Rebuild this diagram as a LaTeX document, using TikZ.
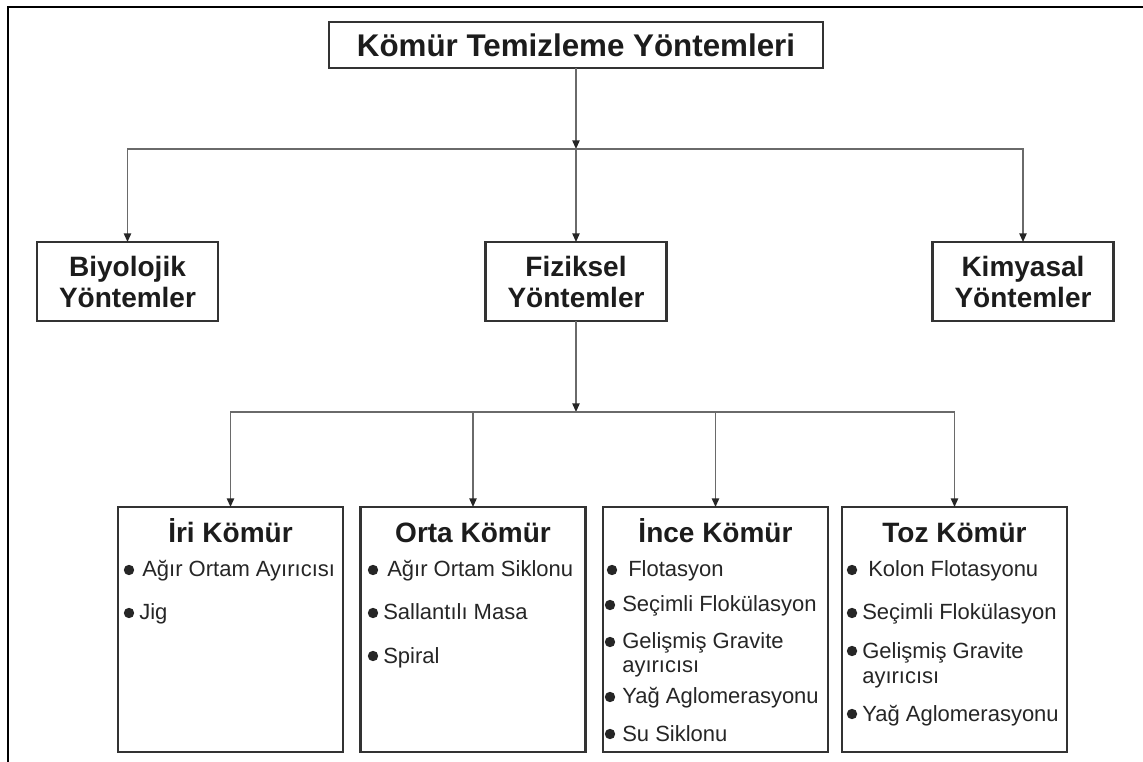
\documentclass[tikz,border=0pt]{standalone}
\usepackage{fontspec}
\setmainfont{Liberation Sans}
\usetikzlibrary{arrows.meta}
\definecolor{boxline}{HTML}{333333}
\definecolor{connline}{HTML}{6A6A6A}
\definecolor{inktext}{HTML}{1C1C1C}
\definecolor{itemink}{HTML}{262626}
% one bulleted entry: name, bullet x, text x, baseline y, text
\newcommand\entry[5]{%
  \fill[itemink] (#2,#4-7) circle[radius=3.9pt];
  \node[itemtext,anchor=base west] (#1) at (#3,#4) {#5};}
\begin{document}
\begin{tikzpicture}[x=0.75pt,y=-0.75pt,
  box/.style={draw=boxline,line width=1.6pt,fill=white,inner sep=0pt,outer sep=0pt},
  titlebox/.style={box,minimum width=370.5pt,minimum height=34.5pt,
    font=\fontsize{23.5pt}{26pt}\selectfont\bfseries,text=inktext},
  methodbox/.style={box,minimum width=135.75pt,minimum height=59.25pt,align=center,
    font=\fontsize{21pt}{23.25pt}\selectfont\bfseries,text=inktext},
  sizebox/.style={box,minimum width=168.75pt,minimum height=183.75pt},
  heading/.style={inner sep=0pt,anchor=base,font=\fontsize{21pt}{23pt}\selectfont\bfseries,text=inktext},
  itemtext/.style={inner sep=0pt,font=\fontsize{16.5pt}{19pt}\selectfont,text=itemink},
  conn/.style={draw=connline,line width=1.1pt},
  arr/.style={-{Triangle[length=6.5pt,width=5.5pt,color=black!85]}},
  frame/.style={draw=black,line width=1.5pt}]
\useasboundingbox (0,0) rectangle (1143,762);

% outer frame (left and top edges)
\draw[frame] (8,762) -- (8,7) -- (1143,7);

% top level
\node[titlebox] (title) at (576,45) {Kömür Temizleme Yöntemleri};

% method boxes
\node[methodbox] (bio) at (127.5,281.5) {Biyolojik\\Yöntemler};
\node[methodbox] (fiz) at (576,281.5) {Fiziksel\\Yöntemler};
\node[methodbox] (kim) at (1023,281.5) {Kimyasal\\Yöntemler};

% size class boxes
\node[sizebox] (iri) at (230.5,629.5) {};
\node[sizebox] (orta) at (473,629.5) {};
\node[sizebox] (ince) at (715.5,629.5) {};
\node[sizebox] (toz) at (954.5,629.5) {};

% junctions
\coordinate (j1) at (576,149);
\coordinate (j2) at (576,412);

% connectors
\draw[conn,arr] (title) -- (j1);
\draw[conn,arr] (j1) -| (bio.north);
\draw[conn,arr] (j1) -| (kim.north);
\draw[conn,arr] (j1) -- (fiz.north);
\draw[conn,arr] (fiz) -- (j2);
\draw[conn,arr] (j2) -| (iri.north);
\draw[conn,arr] (j2) -| (orta.north);
\draw[conn,arr] (j2) -| (ince.north);
\draw[conn,arr] (j2) -| (toz.north);

% headings
\node[heading] (iriH) at (230.5,543) {İri Kömür};
\node[heading] (ortaH) at (473,543) {Orta Kömür};
\node[heading] (inceH) at (715.5,543) {İnce Kömür};
\node[heading] (tozH) at (954.5,543) {Toz Kömür};

% entries: coarse coal
\entry{iri1}{129}{142}{577}{Ağır Ortam Ayırıcısı}
\entry{iri2}{129}{139}{620}{Jig}

% entries: medium coal
\entry{orta1}{373}{387}{577}{Ağır Ortam Siklonu}
\entry{orta2}{373}{383}{620}{Sallantılı Masa}
\entry{orta3}{373}{383}{663}{Spiral}

% entries: fine coal
\entry{ince1}{612}{628}{577}{Flotasyon}
\entry{ince2}{610}{622}{612}{Seçimli Flokülasyon}
\entry{ince3}{610}{622}{649}{Gelişmiş Gravite}
\node[itemtext,anchor=base west] (ince3b) at (622,672) {ayırıcısı};
\entry{ince4}{610}{622}{704}{Yağ Aglomerasyonu}
\entry{ince5}{610}{622}{741}{Su Siklonu}

% entries: ultrafine coal
\entry{toz1}{852}{868}{577}{Kolon Flotasyonu}
\entry{toz2}{852}{862}{620}{Seçimli Flokülasyon}
\entry{toz3}{852}{862}{658}{Gelişmiş Gravite}
\node[itemtext,anchor=base west] (toz3b) at (862,683) {ayırıcısı};
\entry{toz4}{852}{862}{721}{Yağ Aglomerasyonu}
\end{tikzpicture}
\end{document}
